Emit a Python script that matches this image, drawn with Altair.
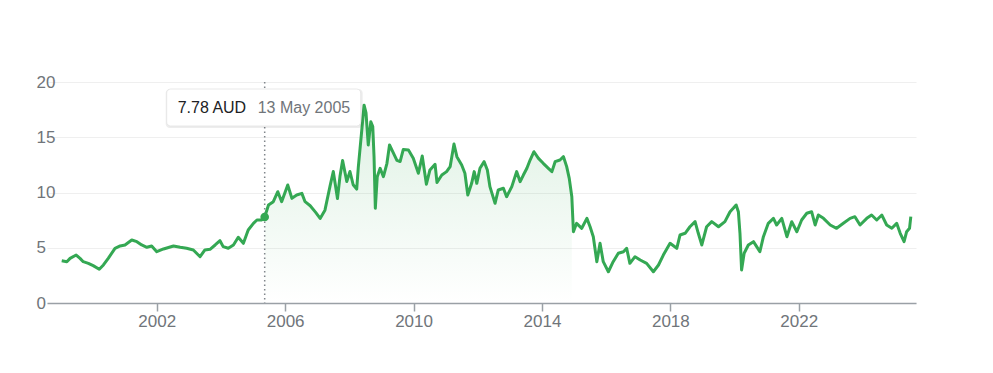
import altair as alt
import pandas as pd

# ---- data (decimal years, AUD) ----
years = [
    1999.04, 1999.20, 1999.30, 1999.49, 1999.61, 1999.71, 1999.87, 2000.02, 2000.21, 2000.34,
    2000.49, 2000.70, 2000.86, 2001.01, 2001.22, 2001.38, 2001.53, 2001.69, 2001.84, 2002.00,
    2002.21, 2002.52, 2002.73, 2002.93, 2003.14, 2003.35, 2003.50, 2003.66, 2003.82, 2003.97,
    2004.07, 2004.23, 2004.39, 2004.54, 2004.70, 2004.85, 2005.01, 2005.12, 2005.27,
    2005.48, 2005.63, 2005.77, 2005.89, 2006.08, 2006.21, 2006.36, 2006.52, 2006.62, 2006.78,
    2006.95, 2007.09, 2007.24, 2007.40, 2007.50, 2007.63, 2007.71, 2007.79, 2007.92, 2008.02,
    2008.12, 2008.23, 2008.28, 2008.39, 2008.46, 2008.52, 2008.59, 2008.67, 2008.73, 2008.77,
    2008.81, 2008.87, 2008.96, 2009.06, 2009.17, 2009.25, 2009.35, 2009.48, 2009.58, 2009.68,
    2009.84, 2009.99, 2010.15, 2010.27, 2010.40, 2010.51, 2010.67, 2010.73, 2010.88, 2011.03,
    2011.14, 2011.26, 2011.35, 2011.50, 2011.60, 2011.69, 2011.81, 2011.89, 2011.97, 2012.07,
    2012.20, 2012.30, 2012.38, 2012.54, 2012.64, 2012.80, 2012.90, 2013.06, 2013.21, 2013.32,
    2013.42, 2013.53, 2013.63, 2013.75, 2013.89, 2014.04, 2014.20, 2014.31, 2014.41, 2014.56,
    2014.67, 2014.77, 2014.85, 2014.93, 2014.98, 2015.08, 2015.24, 2015.40, 2015.50, 2015.60,
    2015.71, 2015.81, 2015.91, 2016.07, 2016.22, 2016.38, 2016.54, 2016.64, 2016.74, 2016.90,
    2017.06, 2017.26, 2017.47, 2017.63, 2017.78, 2017.99, 2018.20, 2018.30, 2018.46, 2018.61,
    2018.77, 2018.87, 2018.98, 2019.13, 2019.29, 2019.50, 2019.70, 2019.86, 2019.96, 2020.05,
    2020.12, 2020.17, 2020.22, 2020.30, 2020.43, 2020.59, 2020.69, 2020.79, 2020.90, 2021.05,
    2021.21, 2021.31, 2021.47, 2021.63, 2021.78, 2021.94, 2022.09, 2022.25, 2022.40, 2022.51,
    2022.61, 2022.77, 2022.98, 2023.18, 2023.39, 2023.60, 2023.75, 2023.91, 2024.12, 2024.27,
    2024.43, 2024.59, 2024.74, 2024.90, 2025.05, 2025.16, 2025.28, 2025.36, 2025.45, 2025.49,
]
prices = [
    3.83, 3.74, 4.04, 4.34, 4.04, 3.74, 3.59, 3.38, 3.05, 3.44,
    4.04, 4.95, 5.16, 5.25, 5.70, 5.55, 5.25, 5.04, 5.16, 4.64,
    4.89, 5.16, 5.04, 4.95, 4.80, 4.19, 4.80, 4.86, 5.25, 5.64,
    5.10, 4.95, 5.25, 5.95, 5.40, 6.61, 7.21, 7.51, 7.51,
    8.87, 9.17, 10.07, 9.17, 10.68, 9.47, 9.77, 9.92, 9.17, 8.80,
    8.20, 7.65, 8.40, 10.60, 11.90, 9.46, 11.50, 12.90, 11.00, 11.90,
    10.70, 10.30, 12.30, 15.70, 17.90, 17.20, 14.30, 16.40, 15.96, 13.24,
    8.57, 11.43, 12.19, 11.43, 12.64, 14.30, 13.69, 12.90, 12.80, 13.90,
    13.85, 13.10, 11.74, 13.30, 10.75, 12.04, 12.55, 10.90, 11.58, 11.89,
    12.34, 14.39, 13.24, 12.49, 11.74, 9.77, 10.83, 11.89, 10.83, 12.19,
    12.79, 12.04, 10.53, 9.02, 10.23, 10.38, 9.62, 10.53, 11.89, 10.98,
    11.58, 12.19, 12.94, 13.69, 13.09, 12.64, 12.19, 11.89, 12.79, 12.94,
    13.24, 12.34, 11.28, 9.62, 6.45, 7.21, 6.76, 7.66, 6.90, 6.00,
    3.74, 5.40, 3.74, 2.83, 3.74, 4.50, 4.64, 4.95, 3.59, 4.19,
    3.89, 3.59, 2.83, 3.44, 4.34, 5.40, 4.95, 6.15, 6.31, 6.90,
    7.36, 6.31, 5.25, 6.90, 7.36, 6.90, 7.36, 8.26, 8.57, 8.87,
    8.26, 6.31, 2.99, 4.50, 5.25, 5.55, 5.10, 4.64, 6.00, 7.21,
    7.66, 7.06, 7.66, 6.00, 7.36, 6.45, 7.51, 8.12, 8.26, 7.06,
    7.96, 7.66, 7.06, 6.76, 7.21, 7.66, 7.81, 7.06, 7.66, 7.96,
    7.51, 7.96, 7.06, 6.76, 7.21, 6.31, 5.55, 6.45, 6.76, 7.81,
]

hover_date = "2005-05-13"
hover_price = 7.78
currency = "AUD"
shade_end_year = 2014.93
x_domain = ["1998-08-01", "2025-08-27"]
x_tick_years = [2002, 2006, 2010, 2014, 2018, 2022]
y_ticks = [0, 5, 10, 15, 20]

GREEN = "#34a853"
GREY = "#70757a"
FONT = "Liberation Sans, Arial, sans-serif"


def to_ts(y):
    base = pd.Timestamp(year=int(y), month=1, day=1)
    return base + pd.Timedelta(days=(y - int(y)) * 365.25)


df = pd.DataFrame({"date": [to_ts(y) for y in years], "price": prices})
hover_ts = pd.Timestamp(hover_date)
df = pd.concat([df, pd.DataFrame({"date": [hover_ts], "price": [hover_price]})])
df = df.sort_values("date").reset_index(drop=True)

area_df = df[(df["date"] >= hover_ts) & (df["date"] <= to_ts(shade_end_year))]

hover_df = pd.DataFrame({
    "date": [hover_ts],
    "price": [hover_price],
    "ptxt": [f"{hover_price:.2f} {currency}"],
    "dtxt": [f"{hover_ts.day} {hover_ts.strftime('%B %Y')}"],
})

x_enc = alt.X(
    "date:T",
    scale=alt.Scale(domain=x_domain),
    title=None,
    axis=alt.Axis(
        values=[alt.DateTime(year=y, month=1, date=1) for y in x_tick_years],
        format="%Y",
        grid=False,
        domainColor="#9aa0a6",
        domainWidth=1.5,
        tickColor="#9aa0a6",
        tickWidth=1.5,
        tickSize=8,
        labelPadding=2,
        labelFontSize=17,
        labelColor=GREY,
        labelFont=FONT,
        labelFlush=False,
        labelOverlap=False,
    ),
)
y_enc = alt.Y(
    "price:Q",
    scale=alt.Scale(domain=[0, 20], nice=False),
    title=None,
    axis=alt.Axis(
        values=y_ticks,
        domain=False,
        ticks=False,
        tickSize=0,
        labelAlign="left",
        labelBaseline="middle",
        labelPadding=11,
        labelFontSize=17,
        labelColor=GREY,
        labelFont=FONT,
        gridColor="#efefef",
        gridWidth=1,
    ),
)

area = alt.Chart(area_df).mark_area(
    line=False,
    color=alt.Gradient(
        gradient="linear",
        stops=[
            alt.GradientStop(color="rgba(52,168,83,0.16)", offset=0),
            alt.GradientStop(color="rgba(52,168,83,0.0)", offset=1),
        ],
        x1=1, x2=1, y1=0, y2=1,
    ),
).encode(x=x_enc, y=y_enc)

line = alt.Chart(df).mark_line(color=GREEN, strokeWidth=3, strokeJoin="round").encode(
    x=x_enc, y=y_enc
)

rule = alt.Chart(hover_df).mark_rule(
    color="#80868b", strokeWidth=1.5, strokeDash=[1.5, 3]
).encode(x=x_enc, y=alt.YDatum(20), y2=alt.Y2Datum(0))

shadow = alt.Chart(hover_df).mark_rect(
    color="#000000", opacity=0.07, cornerRadius=4,
    xOffset=-99, x2Offset=98, yOffset=7, y2Offset=46,
).encode(x=x_enc, x2="date:T", y=alt.YDatum(20), y2=alt.Y2Datum(20))

box = alt.Chart(hover_df).mark_rect(
    color="white", stroke="#e3e3e3", strokeWidth=0.8, cornerRadius=4,
    xOffset=-98, x2Offset=96, yOffset=7, y2Offset=44,
).encode(x=x_enc, x2="date:T", y=alt.YDatum(20), y2=alt.Y2Datum(20))

ptext = alt.Chart(hover_df).mark_text(
    align="left", baseline="middle", dx=-87, dy=25.5,
    fontSize=16, font=FONT, color="#202124",
).encode(x=x_enc, y=alt.YDatum(20), text="ptxt:N")

dtext = alt.Chart(hover_df).mark_text(
    align="left", baseline="middle", dx=-7, dy=25.5,
    fontSize=16, font=FONT, color=GREY,
).encode(x=x_enc, y=alt.YDatum(20), text="dtxt:N")

point = alt.Chart(hover_df).mark_circle(color=GREEN, size=75, opacity=1).encode(
    x=x_enc, y=y_enc
)

chart = alt.layer(area, line, rule, shadow, box, ptext, dtext, point).properties(
    width=869,
    height=221,
    autosize=alt.AutoSizeParams(type="none"),
    padding={"left": 39, "top": 74, "right": 60, "bottom": 50},
    background="white",
).configure_view(stroke=None)

chart.save("out.html", embed_options={"renderer": "svg", "actions": False})
